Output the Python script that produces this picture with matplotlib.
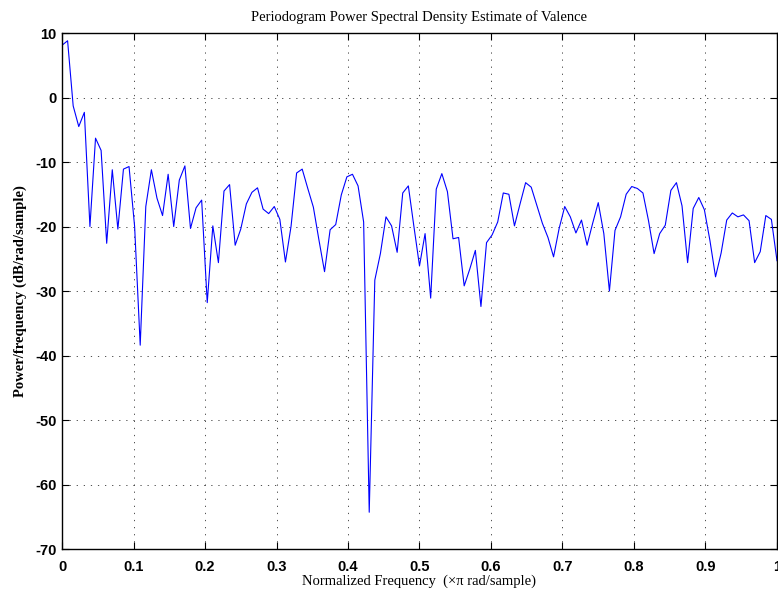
import numpy as np
import matplotlib
matplotlib.use("Agg")
import matplotlib.pyplot as plt

# periodogram values (dB/rad/sample), k = 0..128
psd_db = [8.1, 8.8, -1.3, -4.5, -2.3, -20.0, -6.3, -8.2, -22.6, -11.2,
          -20.4, -11.1, -10.7, -20.0, -38.4, -16.9, -11.2, -15.6, -18.3, -11.9,
          -20.0, -12.8, -10.6, -20.3, -17.1, -15.9, -31.8, -19.9, -25.6, -14.5,
          -13.5, -22.9, -20.4, -16.5, -14.7, -14.0, -17.3, -18.0, -16.9, -18.9,
          -25.5, -20.0, -11.7, -11.1, -14.1, -17.0, -22.1, -27.0, -20.5, -19.7,
          -15.1, -12.3, -11.9, -13.7, -19.3, -64.3, -28.3, -24.2, -18.5, -19.9,
          -24.0, -14.8, -13.7, -20.0, -26.1, -21.1, -31.1, -14.2, -11.8, -14.6,
          -21.9, -21.7, -29.2, -26.6, -23.7, -32.4, -22.5, -21.3, -19.3, -14.8,
          -15.0, -19.9, -16.5, -13.2, -13.9, -16.7, -19.5, -21.7, -24.7, -20.3,
          -16.9, -18.5, -21.0, -19.0, -22.9, -19.5, -16.3, -21.1, -30.0, -20.6,
          -18.5, -15.0, -13.8, -14.1, -14.8, -19.1, -24.2, -21.1, -19.8, -14.4,
          -13.2, -16.8, -25.6, -17.2, -15.5, -17.4, -22.2, -27.8, -24.1, -19.0,
          -17.9, -18.5, -18.2, -19.1, -25.6, -23.9, -18.3, -18.9, -25.3]
freq = np.arange(len(psd_db)) / (len(psd_db) - 1)

x_ticks = [0, 0.1, 0.2, 0.3, 0.4, 0.5, 0.6, 0.7, 0.8, 0.9, 1]
x_labels = ["0", "0.1", "0.2", "0.3", "0.4", "0.5", "0.6", "0.7", "0.8", "0.9", "1"]
y_ticks = [10, 0, -10, -20, -30, -40, -50, -60, -70]

plt.rcParams['axes.unicode_minus'] = False

fig = plt.figure(figsize=(7.78, 5.95), dpi=100)
ax = fig.add_axes([0.0797, 0.0773, 0.919, 0.8672])

ax.plot(freq, psd_db, color='#0000ff', linewidth=0.8)

ax.set_xlim(0, 1)
ax.set_ylim(-70, 10)
ax.set_xticks(x_ticks)
ax.set_xticklabels(x_labels)
ax.set_yticks(y_ticks)
ax.set_yticklabels([str(v) for v in y_ticks])

ax.grid(True, color='black', linewidth=0.6, linestyle=(0, (1.5, 7)), alpha=0.8)
ax.tick_params(direction='in', length=5, width=0.8, top=True, right=True,
               labelsize=10.5, pad=4)
ax.tick_params(axis='x', pad=8)
for lab in ax.get_xticklabels() + ax.get_yticklabels():
    lab.set_fontfamily('Liberation Sans')
    lab.set_fontweight('bold')
for sp in ax.spines.values():
    sp.set_linewidth(1.0)

ax.set_title("Periodogram Power Spectral Density Estimate of Valence",
             fontfamily='Liberation Serif', fontsize=10.5, pad=9)
ax.set_xlabel("Normalized Frequency  (\u00d7\u03c0 rad/sample)",
              fontfamily='Liberation Serif', fontsize=10.5, labelpad=0)
ax.set_ylabel("Power/frequency (dB/rad/sample)",
              fontfamily='Liberation Serif', fontsize=10.5, fontweight='bold', labelpad=6)

fig.savefig("out.png", dpi=100)
